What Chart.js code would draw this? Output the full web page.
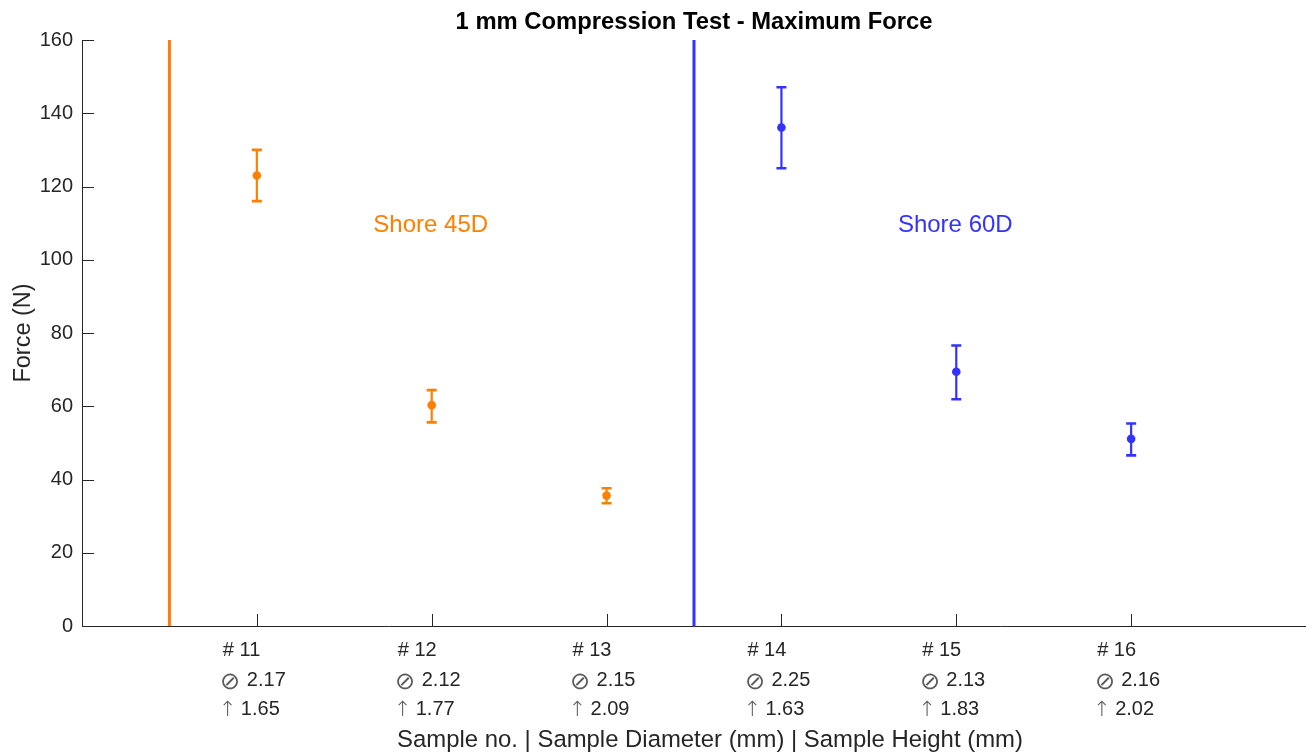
<!DOCTYPE html>
<html>
<head>
<meta charset="utf-8">
<script src="https://cdn.jsdelivr.net/npm/chart.js@4/dist/chart.umd.min.js"></script>
<style>
  html, body { margin: 0; padding: 0; background: #ffffff; overflow: hidden; }
  #wrap { position: relative; width: 1306px; height: 753px; }
</style>
</head>
<body>
<div id="wrap"><canvas id="c"></canvas></div>
<script>
// ---- data ----
const sampleLabels = ['# 11', '# 12', '# 13', '# 14', '# 15', '# 16'];
const sampleX = [1, 2, 3, 4, 5, 6];
const diameters = ['2.17', '2.12', '2.15', '2.25', '2.13', '2.16'];
const heights = ['1.65', '1.77', '2.09', '1.63', '1.83', '2.02'];
const forceMean = [123.0, 60.3, 35.6, 136.1, 69.4, 51.1];
const forceLow = [116.0, 55.6, 33.5, 125.0, 61.9, 46.6];
const forceHigh = [130.0, 64.4, 37.6, 147.1, 76.6, 55.3];
const groupNames = ['Shore 45D', 'Shore 60D'];
const groupStart = [0, 3];
const groupEnd = [3, 6];
const groupDividerX = [0.5, 3.5];
const groupLabelX = [2, 5];
const groupLabelY = [110, 110];
const yTickValues = [0, 20, 40, 60, 80, 100, 120, 140, 160];
const titleText = '1 mm Compression Test - Maximum Force';
const xTitleText = 'Sample no. | Sample Diameter (mm) | Sample Height (mm)';
const yTitleText = 'Force (N)';
const diameterSymbol = '\u2298';
const heightSymbol = '\u2191';

// ---- styles ----
const groupColors = ['#FF8000', '#3333FF'];
const axisColor = '#262626';
const FONT = '"Liberation Sans", Arial, Helvetica, sans-serif';
const SYMFONT = '"DejaVu Sans", sans-serif';

function groupPoints(g) {
  const pts = [];
  for (let i = groupStart[g]; i < groupEnd[g]; i++) pts.push({ x: sampleX[i], y: forceMean[i] });
  return pts;
}

const datasets = [];
for (let g = 0; g < groupNames.length; g++) {
  datasets.push({
    type: 'line',
    label: groupNames[g] + ' divider',
    data: [{ x: groupDividerX[g], y: 0 }, { x: groupDividerX[g], y: 160 }],
    borderColor: groupColors[g],
    borderWidth: 3,
    pointRadius: 0,
    showLine: true,
    fill: false
  });
}
for (let g = 0; g < groupNames.length; g++) {
  datasets.push({
    type: 'scatter',
    label: groupNames[g],
    data: groupPoints(g),
    backgroundColor: groupColors[g],
    borderColor: groupColors[g],
    pointRadius: 4.3,
    pointBorderWidth: 0
  });
}

const decorPlugin = {
  id: 'decor',
  beforeDatasetsDraw(chart) {
    const ctx = chart.ctx;
    const xs = chart.scales.x, ys = chart.scales.y;
    ctx.save();
    for (let g = 0; g < groupNames.length; g++) {
      ctx.strokeStyle = groupColors[g];
      for (let i = groupStart[g]; i < groupEnd[g]; i++) {
        const px = xs.getPixelForValue(sampleX[i]);
        const yl = ys.getPixelForValue(forceLow[i]);
        const yh = ys.getPixelForValue(forceHigh[i]);
        ctx.lineWidth = 2.2;
        ctx.beginPath();
        ctx.moveTo(px, yl); ctx.lineTo(px, yh);
        ctx.stroke();
        ctx.lineWidth = 2.6;
        ctx.beginPath();
        ctx.moveTo(px - 5, yl); ctx.lineTo(px + 5, yl);
        ctx.moveTo(px - 5, yh); ctx.lineTo(px + 5, yh);
        ctx.stroke();
      }
    }
    ctx.restore();
  },
  afterDraw(chart) {
    const ctx = chart.ctx;
    const xs = chart.scales.x, ys = chart.scales.y;
    const ca = chart.chartArea;
    ctx.save();
    // inward tick marks
    ctx.strokeStyle = axisColor;
    ctx.lineWidth = 1;
    ctx.beginPath();
    for (const v of sampleX) {
      const px = Math.round(xs.getPixelForValue(v)) + 0.5;
      ctx.moveTo(px, ca.bottom); ctx.lineTo(px, ca.bottom - 12);
    }
    for (const v of yTickValues) {
      const py = Math.round(ys.getPixelForValue(v)) + 0.5;
      ctx.moveTo(ca.left, py); ctx.lineTo(ca.left + 12, py);
    }
    ctx.stroke();

    // x tick labels: three left-aligned lines, block centred on tick
    ctx.textBaseline = 'alphabetic';
    for (let i = 0; i < sampleX.length; i++) {
      const cx = xs.getPixelForValue(sampleX[i]);
      const left = cx - 34;
      const b0 = ca.bottom + 30;
      ctx.fillStyle = axisColor;
      ctx.textAlign = 'left';
      ctx.font = '20px ' + FONT;
      ctx.fillText(sampleLabels[i], left, b0);
      ctx.fillText(diameters[i], left + 24, b0 + 29.5);
      ctx.fillText(heights[i], left + 18, b0 + 59);
      ctx.textAlign = 'center';
      ctx.fillStyle = '#5a5a5a';
      ctx.font = '200 24px ' + SYMFONT;
      ctx.fillText(diameterSymbol, left + 7.5, b0 + 29.5 + 3);
      ctx.font = '200 21px ' + SYMFONT;
      ctx.fillText(heightSymbol, left + 5, b0 + 59 + 1);
    }

    // axis titles
    ctx.fillStyle = axisColor;
    ctx.font = '23.9px ' + FONT;
    ctx.textAlign = 'center';
    ctx.fillText(xTitleText, 710, 746.5);
    ctx.font = '23.5px ' + FONT;
    ctx.save();
    ctx.translate(30, (ca.top + ca.bottom) / 2);
    ctx.rotate(-Math.PI / 2);
    ctx.fillText(yTitleText, 0, 0);
    ctx.restore();

    // title
    ctx.fillStyle = '#000000';
    ctx.font = 'bold 23.8px ' + FONT;
    ctx.fillText(titleText, (ca.left + ca.right) / 2, 28.5);

    // group annotations
    ctx.font = '24px ' + FONT;
    for (let g = 0; g < groupNames.length; g++) {
      ctx.fillStyle = groupColors[g];
      ctx.fillText(groupNames[g], xs.getPixelForValue(groupLabelX[g]) - 1, ys.getPixelForValue(groupLabelY[g]) + 8.6);
    }
    ctx.restore();
  }
};

new Chart(document.getElementById('c'), {
  type: 'scatter',
  data: { datasets },
  options: {
    responsive: true,
    maintainAspectRatio: false,
    animation: false,
    events: [],
    layout: { autoPadding: false, padding: { top: 40, right: 0, bottom: 0, left: 0 } },
    plugins: { legend: { display: false }, tooltip: { enabled: false }, title: { display: false } },
    scales: {
      x: {
        type: 'linear',
        min: 0,
        max: 7,
        afterBuildTicks: (s) => { s.ticks = sampleX.map(v => ({ value: v })); },
        afterFit: (s) => { s.height = 127; },
        ticks: { display: false },
        grid: { display: false, drawTicks: false },
        border: { display: true, color: axisColor, width: 1 }
      },
      y: {
        type: 'linear',
        min: 0,
        max: 160,
        afterBuildTicks: (s) => { s.ticks = yTickValues.map(v => ({ value: v })); },
        afterFit: (s) => { s.width = 82; },
        ticks: { color: axisColor, font: { family: FONT, size: 20 }, padding: 9 },
        grid: { display: false, drawTicks: false },
        border: { display: true, color: axisColor, width: 1 }
      }
    }
  },
  plugins: [decorPlugin]
});
</script>
</body>
</html>
